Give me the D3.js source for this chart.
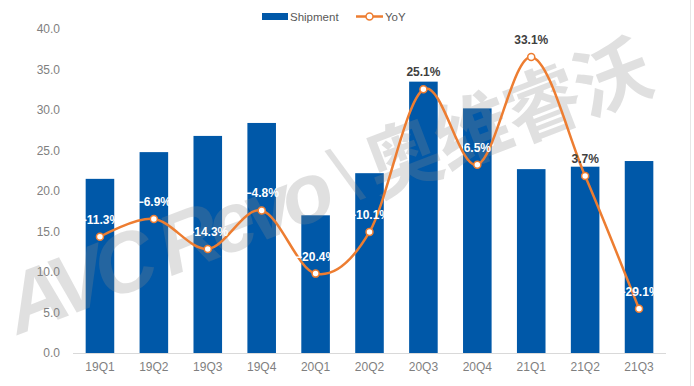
<!DOCTYPE html>
<html><head><meta charset="utf-8">
<script src="https://cdn.jsdelivr.net/npm/d3@7"></script>
<style>
html,body{margin:0;padding:0;background:#fff;}
svg{display:block;font-family:"Liberation Sans Narrow","Liberation Sans",Arial,sans-serif;}
</style></head>
<body><svg id="c" width="694" height="386"></svg>
<script>
const categories = ["19Q1","19Q2","19Q3","19Q4","20Q1","20Q2","20Q3","20Q4","21Q1","21Q2","21Q3"];
const shipment = [21.5,24.8,26.8,28.4,17.0,22.2,33.5,30.2,22.7,23.0,23.7];
const yoy = [-11.3,-6.9,-14.3,-4.8,-20.4,-10.1,25.1,6.5,33.1,3.7,-29.1];
const leftTicks = [0,5,10,15,20,25,30,35,40];

const svg = d3.select("#c");
const W = 694, H = 386;
const m = {left:73, right:28, top:29, bottom:33};
const x = d3.scaleBand().domain(categories).range([m.left, W-m.right]).paddingInner(0.47).paddingOuter(0.235);
const y = d3.scaleLinear().domain([0,40]).range([H-m.bottom, m.top]);
const y2 = d3.scaleLinear().domain([-40,40]).range([H-m.bottom, m.top]);

// right edge line
svg.append("line").attr("x1",690.5).attr("x2",690.5).attr("y1",0).attr("y2",H).attr("stroke","#e6e6e6").attr("stroke-width",1);

// left axis
const yAxis = d3.axisLeft(y).tickValues(leftTicks).tickFormat(d3.format(".1f")).tickSize(0).tickPadding(13);
const ga = svg.append("g").attr("transform",`translate(${m.left},0)`).call(yAxis);
ga.select(".domain").remove();
ga.selectAll("text").attr("fill","#7f7f7f").style("font-size","12px").style("font-family","'Liberation Sans',Arial,sans-serif");

// bars
svg.append("g").selectAll("rect").data(categories).join("rect")
  .attr("x",d=>x(d)).attr("width",x.bandwidth())
  .attr("y",(d,i)=>y(shipment[i])).attr("height",(d,i)=>y(0)-y(shipment[i]))
  .attr("fill","#0058A8");

// baseline
svg.append("line").attr("x1",m.left).attr("x2",W-m.right).attr("y1",y(0)+0.5).attr("y2",y(0)+0.5).attr("stroke","#d9d9d9");

// x axis
const xAxis = d3.axisBottom(x).tickSize(0).tickPadding(9);
const gx = svg.append("g").attr("transform",`translate(0,${y(0)})`).call(xAxis);
gx.select(".domain").remove();
gx.selectAll("text").attr("fill","#7f7f7f").style("font-size","12px").style("font-family","'Liberation Sans',Arial,sans-serif");

// watermark
const wm = svg.append("g").attr("transform","translate(18,335) rotate(-21)").attr("opacity",0.26);
wm.append("text").attr("x",0).attr("y",0).text("AVC Revo")
  .attr("fill","#8a8a8a").style("font-size","84px").style("font-weight","bold").style("font-style","italic")
  .style("font-family","'Liberation Sans',Arial,sans-serif").attr("textLength",345);
wm.append("text").attr("x",352).attr("y",-4).text("\\")
  .attr("fill","#8a8a8a").style("font-size","80px").style("font-family","'Liberation Sans',Arial,sans-serif");
wm.append("text").attr("x",385).attr("y",0).text("奥维睿沃")
  .attr("fill","#8a8a8a").style("font-size","76px").style("font-weight","bold")
  .style("font-family","'Noto Sans CJK SC',sans-serif").attr("textLength",300);

// line
const cx = d => x(d)+x.bandwidth()/2;
const line = d3.line().x((d,i)=>cx(categories[i])).y(d=>y2(d)).curve(d3.curveCatmullRom.alpha(0));
svg.append("path").datum(yoy).attr("d",line).attr("fill","none").attr("stroke","#ED7D31").attr("stroke-width",2.5);
svg.append("g").selectAll("circle").data(yoy).join("circle")
  .attr("cx",(d,i)=>cx(categories[i])).attr("cy",d=>y2(d)).attr("r",3.5)
  .attr("fill","#fff").attr("stroke","#ED7D31").attr("stroke-width",1.5);

// labels
svg.append("g").selectAll("text").data(yoy).join("text")
  .attr("x",(d,i)=>cx(categories[i])).attr("y",d=>y2(d)-13)
  .attr("text-anchor","middle")
  .attr("fill",(d,i)=> (y2(d)-17 > y(shipment[i])) ? "#ffffff" : "#404040")
  .style("font-size","12px").style("font-weight","bold")
  .text(d=>d3.format(".1f")(d)+"%");

// legend
const lg = svg.append("g").style("font-size","11.5px").style("font-family","'Liberation Sans',Arial,sans-serif");
lg.append("rect").attr("x",262).attr("y",13).attr("width",26).attr("height",7).attr("fill","#0058A8");
lg.append("text").attr("x",290).attr("y",20.5).attr("fill","#595959").text("Shipment");
lg.append("line").attr("x1",356).attr("x2",383).attr("y1",16.5).attr("y2",16.5).attr("stroke","#ED7D31").attr("stroke-width",2.5);
lg.append("circle").attr("cx",369.5).attr("cy",16.5).attr("r",3.5).attr("fill","#fff").attr("stroke","#ED7D31").attr("stroke-width",1.5);
lg.append("text").attr("x",385).attr("y",20.5).attr("fill","#595959").text("YoY");
</script></body></html>
